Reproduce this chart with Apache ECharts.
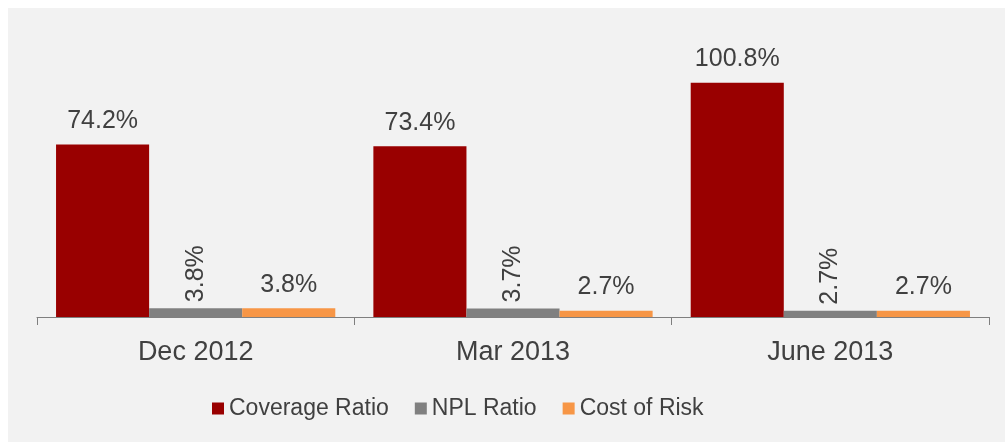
<!DOCTYPE html>
<html>
<head>
<meta charset="utf-8">
<script src="https://cdn.jsdelivr.net/npm/echarts@6/dist/echarts.min.js"></script>
<style>
html,body{margin:0;padding:0;background:#ffffff;}
#chart{position:absolute;left:8px;top:8px;width:997px;height:434px;}
</style>
</head>
<body>
<div id="chart"></div>
<script>
const categories = ['Dec 2012', 'Mar 2013', 'June 2013'];
const coverageRatio = [74.2, 73.4, 100.8];
const nplRatio = [3.8, 3.7, 2.7];
const costOfRisk = [3.8, 2.7, 2.7];
const seriesNames = ['Coverage Ratio', 'NPL Ratio', 'Cost of Risk'];

const FONT = '"Liberation Sans", Arial, sans-serif';
const TXT = '#404040';
const chart = echarts.init(document.getElementById('chart'));
const fmt = p => p.value + '%';
chart.setOption({
  backgroundColor: '#f2f2f2',
  animation: false,
  textStyle: { fontFamily: FONT, color: TXT },
  legend: {
    data: seriesNames,
    left: 199, top: 384,
    itemWidth: 12, itemHeight: 12, itemGap: 26,
    icon: 'rect',
    textStyle: { fontFamily: FONT, fontSize: 23, color: TXT }
  },
  grid: { left: 29, right: 16, top: 30, bottom: 125 },
  xAxis: {
    type: 'category',
    data: categories,
    axisLine: { lineStyle: { color: '#7f7f7f', width: 1 } },
    axisTick: { show: true, length: 8, lineStyle: { color: '#7f7f7f' } },
    axisLabel: { fontFamily: FONT, fontSize: 27, color: TXT, margin: 22 }
  },
  yAxis: { type: 'value', min: 0, max: 120, show: false, splitLine: { show: false } },
  series: [
    {
      name: seriesNames[0], type: 'bar', data: coverageRatio,
      barGap: '0%', barCategoryGap: '12%',
      itemStyle: { color: '#990000' },
      label: { show: true, position: 'top', distance: 11, formatter: fmt,
               fontFamily: FONT, fontSize: 25, color: TXT }
    },
    {
      name: seriesNames[1], type: 'bar', data: nplRatio,
      itemStyle: { color: '#808080' },
      label: { show: true, position: 'top', distance: 6, rotate: 90, align: 'left',
               verticalAlign: 'middle', formatter: fmt,
               fontFamily: FONT, fontSize: 25, color: TXT }
    },
    {
      name: seriesNames[2], type: 'bar', data: costOfRisk,
      itemStyle: { color: '#f79646' },
      label: { show: true, position: 'top', distance: 11, formatter: fmt,
               fontFamily: FONT, fontSize: 25, color: TXT }
    }
  ]
});
</script>
</body>
</html>
